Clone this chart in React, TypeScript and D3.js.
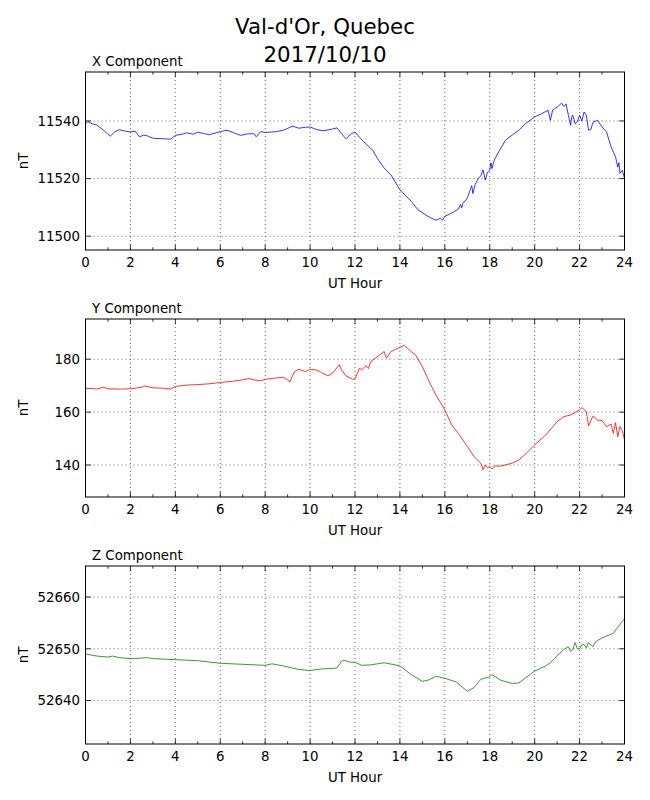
import React from "react";
import * as d3 from "d3";

const titleLines = ["Val-d'Or, Quebec", "2017/10/10"];
const panelTitles = ["X Component", "Y Component", "Z Component"];
const xTickValues = [0, 2, 4, 6, 8, 10, 12, 14, 16, 18, 20, 22, 24];
const xMinorTicks = [1, 3, 5, 7, 9, 11, 13, 15, 17, 19, 21, 23];

const xCompHours = [0, 0.1, 0.3, 0.5, 0.6, 0.8, 1.0, 1.1, 1.3, 1.5, 1.8, 2.0, 2.2, 2.4, 2.6, 2.8, 3.0, 3.5, 3.8, 4.0, 4.3, 4.5, 4.8, 5.0, 5.3, 5.5, 6.0, 6.3, 6.6, 6.9, 7.2, 7.5, 7.6, 7.8, 8.0, 8.5, 8.8, 9.0, 9.2, 9.5, 9.8, 10.0, 10.3, 10.6, 11.0, 11.2, 11.4, 11.6, 11.8, 12.0, 12.2, 12.5, 12.8, 13.0, 13.3, 13.6, 14.0, 14.5, 14.8, 15.2, 15.6, 15.8, 15.9, 16.0, 16.3, 16.6, 16.7, 16.75, 16.8, 17.0, 17.1, 17.2, 17.25, 17.35, 17.5, 17.6, 17.7, 17.8, 17.9, 18.0, 18.05, 18.1, 18.2, 18.4, 18.7, 19.0, 19.3, 19.6, 20.0, 20.3, 20.6, 20.7, 20.8, 21.0, 21.2, 21.3, 21.4, 21.5, 21.6, 21.65, 21.7, 21.8, 21.9, 22.0, 22.1, 22.2, 22.3, 22.4, 22.5, 22.6, 22.8, 23.0, 23.2, 23.4, 23.6, 23.7, 23.75, 23.8, 23.9, 24.0];
const xCompValues = [11539.0, 11539.8, 11539.0, 11538.6, 11538.0, 11536.8, 11535.4, 11534.7, 11536.2, 11537.0, 11536.4, 11536.2, 11536.5, 11534.5, 11535.1, 11534.7, 11534.0, 11533.8, 11533.7, 11535.0, 11535.4, 11535.9, 11535.4, 11536.1, 11535.6, 11535.2, 11536.3, 11536.8, 11535.9, 11535.0, 11535.5, 11535.6, 11534.5, 11536.3, 11536.0, 11536.3, 11536.8, 11537.4, 11538.2, 11537.5, 11537.8, 11537.9, 11537.0, 11536.6, 11537.2, 11537.6, 11535.6, 11533.8, 11535.4, 11536.2, 11534.3, 11532.0, 11529.7, 11527.0, 11523.6, 11521.3, 11516.1, 11512.1, 11509.2, 11507.1, 11505.5, 11506.2, 11505.6, 11506.9, 11508.0, 11509.4, 11511.0, 11509.8, 11511.3, 11513.2, 11515.5, 11517.5, 11514.8, 11518.0, 11520.1, 11521.0, 11523.0, 11519.5, 11522.2, 11523.0, 11525.5, 11523.5, 11526.4, 11529.3, 11533.3, 11535.1, 11536.8, 11539.1, 11541.4, 11542.5, 11543.7, 11540.2, 11543.8, 11544.8, 11546.2, 11545.0, 11545.9, 11542.0, 11538.5, 11541.5, 11542.0, 11539.0, 11539.7, 11542.0, 11540.0, 11543.1, 11542.0, 11536.8, 11537.0, 11539.6, 11540.2, 11537.9, 11536.2, 11531.0, 11527.6, 11524.0, 11525.5, 11521.8, 11522.9, 11520.1];

const yCompHours = [0, 0.3, 0.5, 0.8, 1.0, 1.5, 2.0, 2.5, 2.6, 3.0, 3.5, 3.8, 4.0, 4.5, 5.0, 5.5, 6.0, 6.5, 7.0, 7.3, 7.5, 7.8, 8.0, 8.5, 8.8, 9.0, 9.1, 9.3, 9.5, 9.8, 10.0, 10.3, 10.5, 10.8, 11.0, 11.3, 11.4, 11.6, 11.9, 12.0, 12.2, 12.3, 12.5, 12.6, 12.7, 13.0, 13.3, 13.4, 13.6, 14.0, 14.2, 14.5, 14.7, 15.0, 15.3, 15.6, 16.0, 16.3, 16.6, 17.0, 17.3, 17.6, 17.7, 17.8, 17.9, 18.0, 18.1, 18.2, 18.5, 19.0, 19.3, 19.6, 20.0, 20.5, 21.0, 21.3, 21.6, 22.0, 22.1, 22.3, 22.4, 22.6, 22.8, 23.0, 23.2, 23.4, 23.5, 23.6, 23.7, 23.8, 23.9, 24.0];
const yCompValues = [169.0, 168.9, 168.7, 169.4, 168.8, 168.7, 168.8, 169.4, 169.9, 169.2, 169.0, 168.7, 169.7, 170.2, 170.4, 170.7, 171.2, 171.6, 172.2, 172.7, 172.2, 171.8, 172.4, 172.9, 173.2, 172.2, 171.4, 175.3, 176.2, 175.3, 176.2, 175.9, 175.0, 173.7, 174.7, 177.9, 176.0, 173.7, 172.4, 172.6, 176.6, 176.0, 177.5, 176.5, 179.1, 181.0, 182.9, 180.5, 182.9, 184.5, 185.2, 182.9, 181.6, 177.2, 171.6, 166.5, 160.8, 155.2, 152.0, 147.0, 143.2, 140.7, 138.2, 140.0, 139.0, 139.4, 138.5, 139.6, 139.6, 140.7, 141.9, 144.2, 147.6, 151.4, 156.4, 158.3, 158.9, 160.8, 161.7, 160.2, 154.8, 158.6, 157.0, 156.8, 154.5, 155.5, 152.0, 156.0, 150.7, 154.5, 153.0, 149.5];

const zCompHours = [0, 0.5, 1.0, 1.2, 1.5, 2.0, 2.5, 2.7, 3.0, 3.5, 4.0, 5.0, 6.0, 7.0, 7.5, 8.0, 8.3, 8.8, 9.2, 9.5, 10.0, 10.5, 11.0, 11.2, 11.4, 11.5, 11.8, 12.0, 12.3, 12.7, 13.0, 13.3, 14.0, 14.5, 15.0, 15.3, 15.6, 16.0, 16.5, 17.0, 17.3, 17.6, 18.0, 18.1, 18.5, 19.0, 19.3, 19.6, 20.0, 20.5, 20.7, 21.0, 21.3, 21.5, 21.6, 21.7, 21.8, 21.9, 22.0, 22.1, 22.2, 22.3, 22.4, 22.6, 22.7, 22.8, 23.0, 23.5, 23.7, 23.9, 24.0];
const zCompValues = [52649.0, 52648.6, 52648.4, 52648.6, 52648.3, 52648.1, 52648.2, 52648.3, 52648.1, 52648.0, 52647.9, 52647.7, 52647.2, 52647.0, 52646.9, 52646.8, 52647.1, 52646.7, 52646.3, 52646.0, 52645.8, 52646.1, 52646.2, 52646.3, 52647.6, 52647.8, 52647.4, 52647.4, 52646.8, 52646.9, 52647.1, 52647.3, 52646.7, 52645.0, 52643.7, 52644.0, 52644.7, 52644.3, 52643.6, 52641.8, 52642.5, 52644.1, 52644.6, 52645.0, 52643.9, 52643.3, 52643.4, 52644.4, 52645.7, 52646.7, 52647.3, 52648.6, 52649.9, 52650.4, 52649.5, 52649.9, 52651.2, 52650.0, 52650.0, 52650.8, 52650.8, 52650.2, 52651.2, 52650.4, 52651.3, 52651.6, 52652.1, 52653.0, 52654.1, 52655.3, 52655.8];

const xCompTicks = [11500, 11520, 11540];
const yCompTicks = [140, 160, 180];
const zCompTicks = [52640, 52650, 52660];

const xCompDomain = [11495.2, 11557];
const yCompDomain = [127.9, 195.2];
const zCompDomain = [52631.6, 52666];

const FONT = "DejaVu Sans";
const LEFT = 85.5;
const RIGHT = 624.5;
const PANEL_H = 178;
const panelTops = [72, 319, 566];

const panels = [
  { title: panelTitles[0], hours: xCompHours, values: xCompValues, ticks: yTicksOr(xCompTicks), domain: xCompDomain, color: "#0000ff" },
  { title: panelTitles[1], hours: yCompHours, values: yCompValues, ticks: yTicksOr(yCompTicks), domain: yCompDomain, color: "#ff0000" },
  { title: panelTitles[2], hours: zCompHours, values: zCompValues, ticks: yTicksOr(zCompTicks), domain: zCompDomain, color: "#008000" },
];

function yTicksOr(t: number[]) {
  return t;
}

function Panel({ p, top }: { p: any; top: number }) {
  const bottom = top + PANEL_H;
  const x = d3.scaleLinear().domain([0, 24]).range([LEFT, RIGHT]);
  const y = d3.scaleLinear().domain(p.domain).range([bottom, top]);
  const pts: [number, number][] = p.hours.map((h: number, i: number) => [h, p.values[i]]);
  const line = d3
    .line<[number, number]>()
    .x((d) => x(d[0]))
    .y((d) => y(d[1]));
  const clipId = "clip-" + top;
  return (
    <g>
      <defs>
        <clipPath id={clipId}>
          <rect x={LEFT} y={top} width={RIGHT - LEFT} height={PANEL_H} />
        </clipPath>
      </defs>
      {/* grid */}
      {xTickValues.map((t) => (
        <line key={"gx" + t} x1={x(t)} x2={x(t)} y1={top} y2={bottom} stroke="#000" strokeWidth={0.6} strokeDasharray="1,3" />
      ))}
      {p.ticks.map((t: number) => (
        <line key={"gy" + t} x1={LEFT} x2={RIGHT} y1={y(t)} y2={y(t)} stroke="#000" strokeWidth={0.6} strokeDasharray="1,3" />
      ))}
      {/* data */}
      <path d={line(pts) || ""} fill="none" stroke={p.color} strokeWidth={0.8} clipPath={`url(#${clipId})`} strokeLinejoin="round" />
      {/* ticks */}
      {xTickValues.map((t) => (
        <g key={"tx" + t}>
          <line x1={x(t)} x2={x(t)} y1={bottom} y2={bottom - 5.3} stroke="#000" strokeWidth={0.8} />
          <line x1={x(t)} x2={x(t)} y1={top} y2={top + 5.3} stroke="#000" strokeWidth={0.8} />
          <text x={x(t)} y={bottom + 17} textAnchor="middle" fontFamily={FONT} fontSize={13.33} fill="#000">
            {t}
          </text>
        </g>
      ))}
      {xMinorTicks.map((t) => (
        <g key={"mx" + t}>
          <line x1={x(t)} x2={x(t)} y1={bottom} y2={bottom - 2.7} stroke="#000" strokeWidth={0.8} />
          <line x1={x(t)} x2={x(t)} y1={top} y2={top + 2.7} stroke="#000" strokeWidth={0.8} />
        </g>
      ))}
      {p.ticks.map((t: number) => (
        <g key={"ty" + t}>
          <line x1={LEFT} x2={LEFT + 5.3} y1={y(t)} y2={y(t)} stroke="#000" strokeWidth={0.8} />
          <line x1={RIGHT} x2={RIGHT - 5.3} y1={y(t)} y2={y(t)} stroke="#000" strokeWidth={0.8} />
          <text x={LEFT - 5.5} y={y(t) + 4.8} textAnchor="end" fontFamily={FONT} fontSize={13.33} fill="#000">
            {t}
          </text>
        </g>
      ))}
      {/* frame */}
      <rect x={LEFT} y={top} width={RIGHT - LEFT} height={PANEL_H} fill="none" stroke="#000" strokeWidth={1} />
      {/* titles and labels */}
      <text x={92} y={top - 6.3} fontFamily={FONT} fontSize={13.33} fill="#000">
        {p.title}
      </text>
      <text x={(LEFT + RIGHT) / 2} y={bottom + 38} textAnchor="middle" fontFamily={FONT} fontSize={13.33} fill="#000">
        UT Hour
      </text>
      <text
        transform={`translate(27.5, ${top + PANEL_H / 2}) rotate(-90)`}
        textAnchor="middle"
        fontFamily={FONT}
        fontSize={13.33}
        fill="#000"
      >
        nT
      </text>
    </g>
  );
}

export default function App() {
  return (
    <svg width={650} height={800} style={{ position: "absolute", left: 0, top: 0, background: "#fff" }}>
      <rect x={0} y={0} width={650} height={800} fill="#fff" />
      <text x={325} y={34} textAnchor="middle" fontFamily={FONT} fontSize={21.33} fill="#000">
        {titleLines[0]}
      </text>
      <text x={325} y={61.5} textAnchor="middle" fontFamily={FONT} fontSize={21.33} fill="#000">
        {titleLines[1]}
      </text>
      {panels.map((p, i) => (
        <Panel key={i} p={p} top={panelTops[i]} />
      ))}
    </svg>
  );
}
